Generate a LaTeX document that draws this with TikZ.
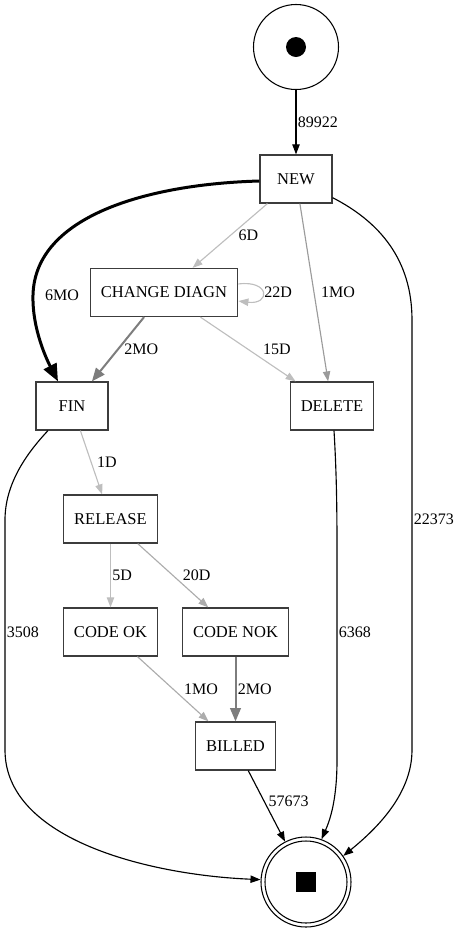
\documentclass[tikz,border=0pt]{standalone}
\usepackage{fontspec}
\setmainfont{Liberation Serif}
\usepackage{tikz}
\usepackage{xcolor}
\usetikzlibrary{arrows.meta}
\definecolor{cBorder}{RGB}{60,60,60}
\definecolor{cSilver}{RGB}{190,190,190}
\definecolor{cAsh}{RGB}{172,172,172}
\definecolor{cGrey}{RGB}{155,155,155}
\definecolor{cSlate}{RGB}{125,125,125}
\tikzset{
	activity/.style  ={rectangle, draw=cBorder, line width=0.9pt, minimum width=54pt, minimum height=36pt, inner xsep=8pt, align=center, font=\fontsize{12.4}{14}\selectfont},
	initstate/.style ={circle, draw=black, line width=0.8pt, minimum size=63.75pt, inner sep=0pt},
	finalstate/.style={circle, draw=black, line width=0.8pt, minimum size=67.5pt, inner sep=0pt},
	% edge styles
	flow/.style      ={-{Triangle[length=7.5pt, width=5.5pt]}, line width=0.85pt, black},
	heavy/.style     ={line width=1.5pt, -{Triangle[length=10pt, width=8pt]}},
	lbl/.style       ={font=\fontsize{12}{14}\selectfont, inner sep=1pt, text=black},
}
\begin{document}
\begin{tikzpicture}[x=0.75pt, y=-0.75pt]
	\useasboundingbox (0,0) rectangle (459,933);
	% states
	\node[initstate] (init) at (296,47) {};
	\fill (init.center) circle (7.5pt);
	\node[activity] (new) at (296,179) {NEW};
	\node[activity] (chg) at (164,292.5) {CHANGE DIAGN};
	\node[activity] (fin) at (72,406) {FIN};
	\node[activity] (dlt) at (332,406) {DELETE};
	\node[activity] (rel) at (110.5,519) {RELEASE};
	\node[activity] (cok) at (110.5,632) {CODE OK};
	\node[activity] (cnok) at (235.5,632) {CODE NOK};
	\node[activity] (bill) at (235.5,746) {BILLED};
	\node[finalstate] (final) at (306,882) {};
	\draw[line width=0.8pt] (final.center) circle (30.75pt);
	\fill ([shift={(-7.5pt,-7.5pt)}]final.center) rectangle ++(15pt,15pt);
	% transitions
	\draw[flow] (init) -- node[lbl, right=0pt] {89922} (new);
	\draw[flow, line width=2.25pt, -{Triangle[length=13pt, width=10.5pt]}] ([yshift=-1.5pt]new.west) .. controls (150,184) and (35,215) .. (33,295) node[lbl, right=7pt] {6MO} .. controls (32,330) and (48,362) .. ([xshift=-10.5pt]fin.north);
	\draw[flow, cSilver] (new) -- node[lbl, right=5pt] {6D} (chg);
	\draw[flow, cSilver] ([yshift=6.4pt]chg.east) .. controls +(32,-4) and +(32,4) .. ([yshift=-6.4pt]chg.east) node[lbl, right=0pt, pos=0.5] {22D};
	\draw[flow, cGrey] (new) -- node[lbl, right=4pt] {1MO} (dlt);
	\draw[flow, cSlate, heavy] (chg) -- node[lbl, right=3pt] {2MO} (fin);
	\draw[flow, cSilver] (chg) -- node[lbl, right=10pt] {15D} (dlt);
	\draw[flow, cSilver] (fin) -- node[lbl, right=3pt] {1D} (rel);
	\draw[flow, cSilver] (rel) -- node[lbl, right=0pt] {5D} (cok);
	\draw[flow, cAsh] (rel) -- node[lbl, right=6pt] {20D} (cnok);
	\draw[flow, cAsh] (cok) -- node[lbl, right=7pt] {1MO} (bill);
	\draw[flow, cSlate, heavy] (cnok) -- node[lbl, right=0pt] {2MO} (bill);
	\draw[flow] (bill) -- node[lbl, right=2pt, pos=0.43] {57673} (final);
	\draw[flow] ([yshift=-14pt]new.east) .. controls (380,222) and (412,260) .. (412,320) -- node[lbl, right=0pt, pos=0.463] {22373} (412,750) .. controls (412,795) and (375,830) .. (final.35);
	\draw[flow] ([xshift=1.5pt]dlt.south) .. controls (337,480) and (337,520) .. (337,560) -- node[lbl, right=0pt, pos=0.36] {6368} (337,760) .. controls (337,800) and (330,820) .. (final.70);
	\draw[flow] ([xshift=-18pt]fin.south) .. controls (25,455) and (5,485) .. (5,520) -- node[lbl, right=0pt, pos=0.487] {3508} (5,750) .. controls (5,840) and (150,875) .. (final.177);
\end{tikzpicture}
\end{document}
